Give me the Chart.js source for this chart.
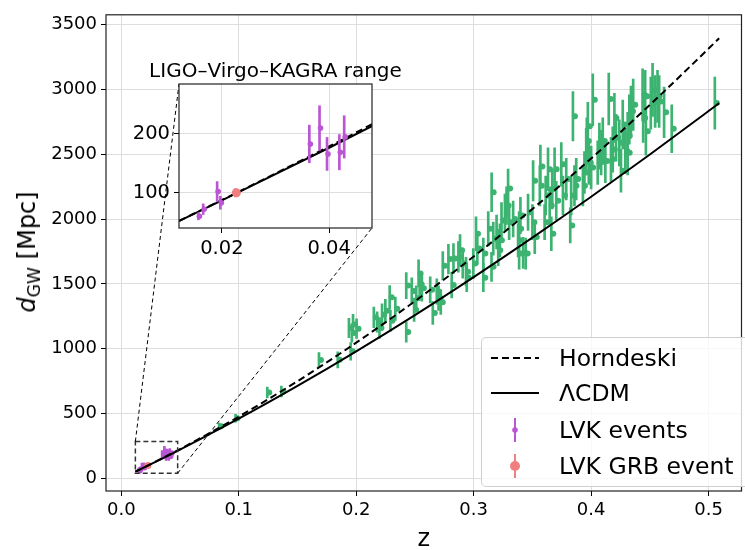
<!DOCTYPE html>
<html>
<head>
<meta charset="utf-8">
<script src="https://cdn.jsdelivr.net/npm/chart.js@4.4.1/dist/chart.umd.min.js"></script>
<style>
  body { margin: 0; background: #fff; font-family: 'DejaVu Sans', sans-serif; }
  #wrap { position: relative; width: 745px; height: 550px; overflow: hidden; }
  #main { position: absolute; left: 0; top: 0; }
  #insetBox { position: absolute; left: 110px; top: 56px; width: 270px; height: 200px; }
  #insetTitle { position: absolute; left: 275.5px; top: 70px; transform: translate(-50%, -50%);
                font-size: 20px; white-space: nowrap; color: #000; }
  #ylabel { position: absolute; left: 27px; top: 252px; transform: translate(-50%, -50%) rotate(-90deg);
            font-size: 24px; white-space: nowrap; color: #000; }
  #ylabel sub { font-size: 0.72em; vertical-align: baseline; position: relative; top: 0.28em; }
  #legend { position: absolute; left: 481px; top: 337px; width: 280px; height: 150px; box-sizing: border-box;
            border: 1px solid #cfcfcf; border-radius: 5px; background: rgba(255,255,255,0.8); }
  #legend svg { position: absolute; left: 0; top: 0; }
  #legend span { position: absolute; left: 77px; font-size: 23.5px; line-height: 28px; color: #000; white-space: nowrap; }
</style>
</head>
<body>
<div id="wrap">
  <canvas id="main" width="745" height="550"></canvas>
  <div id="insetBox"><canvas id="inset" width="270" height="200"></canvas></div>
  <div id="insetTitle">LIGO–Virgo–KAGRA range</div>
  <div id="ylabel"><i>d</i><sub>GW</sub> [Mpc]</div>
  <div id="legend">
    <svg width="80" height="150">
      <line x1="9" y1="20" x2="57" y2="20" stroke="#000" stroke-width="2" stroke-dasharray="7,4"/>
      <line x1="9" y1="55" x2="57" y2="55" stroke="#000" stroke-width="2"/>
      <line x1="33" y1="80" x2="33" y2="104" stroke="#ba55d3" stroke-width="2"/>
      <circle cx="33" cy="92" r="2.8" fill="#ba55d3"/>
      <line x1="33" y1="116" x2="33" y2="140" stroke="#f08080" stroke-width="2"/>
      <circle cx="33" cy="128" r="5" fill="#f08080"/>
    </svg>
    <span style="top:6px">Horndeski</span>
    <span style="top:41px">ΛCDM</span>
    <span style="top:78px">LVK events</span>
    <span style="top:114px">LVK GRB event</span>
  </div>
</div>
<script>
const FONT = "'DejaVu Sans', sans-serif";
const GREEN = '#3cb371';
const PURPLE = '#ba55d3';
const RED = '#f08080';

// axis ticks
const xTicks = [0, 0.1, 0.2, 0.3, 0.4, 0.5];
const yTicks = [0, 500, 1000, 1500, 2000, 2500, 3000, 3500];
const insetXTicks = [0.02, 0.04];
const insetYTicks = [100, 200];
const insetRangeZ = [0.012, 0.048];
const insetRangeD = [40, 285];

// model curves (Mpc)
const curveZ = [0.012, 0.02, 0.03, 0.04, 0.05, 0.075, 0.1, 0.15, 0.2, 0.25, 0.3, 0.35, 0.4, 0.45, 0.5, 0.509];
const lcdmD = [51.9, 87.0, 131.5, 176.5, 222.3, 340.0, 460.3, 713.2, 980.0, 1259.7, 1552.7, 1856.9, 2172.0, 2497.6, 2832.9, 2894.0];
const horndeskiD = [52.1, 87.6, 132.8, 178.9, 226.1, 348.7, 476.0, 749.6, 1046.6, 1366.8, 1711.0, 2078.0, 2467.0, 2880.0, 3314.5, 3394.0];

// LVK events
const lvkZ = [0.0158, 0.0167, 0.0193, 0.0199, 0.0365, 0.0384, 0.0398, 0.0421, 0.0430];
const lvkD = [60, 72, 102, 83, 183, 210, 166, 169, 195];
const lvkErr = [6, 9, 17, 11, 32, 38, 28, 30, 36];

// LVK GRB event
const grbZ = [0.0227];
const grbD = [100];
const grbErr = [7];

// simulated GW events
const gwZ = [0.085, 0.099, 0.126, 0.138, 0.170, 0.186, 0.1955, 0.197, 0.198, 0.199,
  0.202, 0.2167, 0.2195, 0.2215, 0.2237, 0.2265, 0.2302, 0.2308, 0.235, 0.2443,
  0.2443, 0.249, 0.251, 0.2528, 0.2548, 0.2557, 0.2576, 0.2647, 0.2669, 0.2703,
  0.2718, 0.2737, 0.2754, 0.2802, 0.283, 0.2845, 0.2887, 0.2901, 0.2924, 0.2952,
  0.2958, 0.3014, 0.3037, 0.3048, 0.3099, 0.3099, 0.3141, 0.3169, 0.317, 0.3184,
  0.3212, 0.3226, 0.324, 0.3254, 0.3283, 0.3297, 0.331, 0.3319, 0.3353, 0.3395,
  0.3404, 0.3404, 0.3415, 0.3438, 0.346, 0.348, 0.3517, 0.3523, 0.3537, 0.358,
  0.3585, 0.3621, 0.363, 0.365, 0.3664, 0.3678, 0.3686, 0.3706, 0.372, 0.3763,
  0.3777, 0.3805, 0.3839, 0.3847, 0.3862, 0.3875, 0.389, 0.3947, 0.396, 0.3975,
  0.398, 0.3989, 0.3997, 0.4017, 0.4031, 0.4073, 0.4087, 0.4102, 0.4116, 0.4138,
  0.4167, 0.4186, 0.4201, 0.4215, 0.4229, 0.4257, 0.4271, 0.4286, 0.4308, 0.4328,
  0.4328, 0.4342, 0.4356, 0.4375, 0.4455, 0.446, 0.4477, 0.4483, 0.4525, 0.454,
  0.4562, 0.4582, 0.4596, 0.4638, 0.4703, 0.507];
const gwD = [402, 464, 663, 670, 913, 915, 1160, 980, 1122, 1186,
  1155, 1242, 1206, 1160, 1262, 1293, 1397, 1216, 1308, 1487,
  1129, 1446, 1300, 1390, 1581, 1497, 1466, 1454, 1275, 1441,
  1390, 1359, 1640, 1691, 1492, 1696, 1709, 1760, 1657, 1594,
  1548, 1657, 1887, 1772, 1734, 1548, 1925, 1632, 2206, 1849,
  1900, 1760, 1836, 1989, 2053, 2104, 2236, 1976, 2001, 1836,
  1925, 1734, 2027, 1740, 1734, 2053, 1976, 2295, 1861, 2257,
  2405, 1976, 2181, 2384, 2104, 1887, 2231, 2384, 2142, 2422,
  2181, 2308, 1951, 2181, 2793, 2257, 2308, 2257, 2359, 2525,
  2601, 2716, 2435, 2397, 2920, 2435, 2563, 2512, 2601, 2448,
  2925, 2461, 2537, 2780, 2627, 2588, 2372, 2729, 2525, 2640,
  2512, 2767, 2831, 2881, 2958, 2780, 2946, 2678, 2894, 2996,
  2907, 2946, 2907, 2823, 2696, 2894];
const gwErr = [25, 30, 42, 42, 57, 62, 75, 68, 72, 80,
  75, 80, 78, 80, 85, 88, 90, 82, 90, 100,
  78, 100, 90, 95, 105, 100, 100, 100, 88, 98,
  95, 95, 110, 115, 100, 115, 118, 120, 112, 110,
  108, 115, 130, 122, 120, 108, 132, 112, 150, 128,
  130, 120, 128, 138, 140, 145, 150, 135, 138, 128,
  132, 120, 140, 120, 120, 140, 135, 155, 128, 155,
  165, 135, 150, 165, 145, 130, 152, 165, 148, 168,
  150, 160, 135, 150, 190, 155, 160, 155, 162, 175,
  180, 185, 168, 165, 200, 168, 178, 172, 180, 168,
  200, 170, 175, 190, 180, 178, 165, 188, 175, 182,
  172, 190, 195, 198, 200, 190, 200, 185, 200, 205,
  200, 200, 200, 195, 185, 200];

const INSET_LEFT = 110, INSET_TOP = 56;

Chart.defaults.font.family = FONT;
Chart.defaults.color = '#000';

function pts(zs, ds) {
    return zs.map((z, i) => ({x: z, y: ds[i]}));
}
function errBars(zs, ds, es) {
    return zs.map((z, i) => ({x: z, y: [ds[i] - es[i], ds[i] + es[i]]}));
}

function lineSet(label, ys, dashed, order) {
    return {
        type: 'line', label: label, data: pts(curveZ, ys),
        borderColor: '#000', borderWidth: 2, borderDash: dashed ? [7, 4] : [],
        pointRadius: 0, cubicInterpolationMode: 'monotone', order: order
    };
}
function pointSet(label, zs, ds, color, r, order) {
    return {
        type: 'scatter', label: label, data: pts(zs, ds),
        backgroundColor: color, borderWidth: 0, pointRadius: r, pointHoverRadius: r, order: order
    };
}
function barSet(zs, ds, es, color, order) {
    return {
        type: 'bar', data: errBars(zs, ds, es), backgroundColor: color,
        borderWidth: 0, barThickness: 2, stack: 'err', order: order
    };
}

function scaleOpts(min, max, tickVals, fmt, fontSize, fitFn) {
    return {
        type: 'linear', min: min, max: max, offset: false, stacked: false, beginAtZero: false,
        afterBuildTicks: s => { s.ticks = tickVals.map(v => ({value: v})); },
        afterFit: fitFn,
        ticks: { callback: fmt, font: {size: fontSize}, color: '#000', padding: 4, maxRotation: 0, autoSkip: false },
        grid: { color: '#dddddd', lineWidth: 1, tickColor: '#000', tickLength: 5, offset: false },
        border: { display: false }
    };
}

const framePlugin = {
    id: 'frame',
    beforeDraw(chart) {
        const a = chart.chartArea;
        const ctx = chart.ctx;
        ctx.save();
        ctx.fillStyle = '#fff';
        ctx.fillRect(a.left, a.top, a.right - a.left, a.bottom - a.top);
        ctx.restore();
    },
    afterDraw(chart) {
        const a = chart.chartArea;
        const ctx = chart.ctx;
        ctx.save();
        ctx.strokeStyle = '#222';
        ctx.lineWidth = 1.2;
        ctx.strokeRect(a.left, a.top, a.right - a.left, a.bottom - a.top);
        ctx.restore();
    }
};

// inset first, the main chart needs its corners
const insetChart = new Chart(document.getElementById('inset'), {
    type: 'scatter',
    data: {
        datasets: [
            pointSet('LVK GRB event', grbZ, grbD, RED, 4.5, 0),
            barSet(grbZ, grbD, grbErr, RED, 1),
            pointSet('LVK events', lvkZ, lvkD, PURPLE, 2.8, 2),
            barSet(lvkZ, lvkD, lvkErr, PURPLE, 3),
            lineSet('Horndeski', horndeskiD, true, 4),
            lineSet('ΛCDM', lcdmD, false, 5)
        ]
    },
    options: {
        responsive: false,
        animation: false,
        events: [],
        layout: { padding: {left: 0, top: 28, right: 8, bottom: 0} },
        plugins: { legend: { display: false }, tooltip: { enabled: false } },
        scales: {
            x: scaleOpts(insetRangeZ[0], insetRangeZ[1], insetXTicks, v => v.toFixed(2), 19.5, s => { s.height = 28; }),
            y: scaleOpts(insetRangeD[0], insetRangeD[1], insetYTicks, v => String(v), 19.5, s => { s.width = 69; })
        }
    },
    plugins: [framePlugin]
});

const zoomBoxPlugin = {
    id: 'zoomBox',
    afterDatasetsDraw(chart) {
        const {ctx, scales: {x, y}} = chart;
        const x0 = x.getPixelForValue(insetRangeZ[0]);
        const x1 = x.getPixelForValue(insetRangeZ[1]);
        const y0 = y.getPixelForValue(insetRangeD[0]);
        const y1 = y.getPixelForValue(insetRangeD[1]);
        const ia = insetChart.chartArea;
        ctx.save();
        ctx.strokeStyle = '#333';
        ctx.lineWidth = 1.5;
        ctx.setLineDash([5, 3]);
        ctx.strokeRect(x0, y1, x1 - x0, y0 - y1);
        ctx.strokeStyle = '#000';
        ctx.lineWidth = 1;
        ctx.setLineDash([4, 3]);
        ctx.beginPath();
        ctx.moveTo(x0, y1);
        ctx.lineTo(INSET_LEFT + ia.left, INSET_TOP + ia.top);
        ctx.moveTo(x1, y0);
        ctx.lineTo(INSET_LEFT + ia.right, INSET_TOP + ia.bottom);
        ctx.stroke();
        ctx.restore();
    }
};

const xMain = scaleOpts(-0.013, 0.528, xTicks, v => v.toFixed(1), 18, s => { s.height = 59; });
xMain.title = { display: true, text: 'z', font: {size: 24}, color: '#000', padding: {top: 0, bottom: -4} };
const yMain = scaleOpts(-97, 3575, yTicks, v => String(v), 18, s => { s.width = 106; });

new Chart(document.getElementById('main'), {
    type: 'scatter',
    data: {
        datasets: [
            lineSet('Horndeski', horndeskiD, true, 0),
            lineSet('ΛCDM', lcdmD, false, 1),
            pointSet('LVK GRB event', grbZ, grbD, RED, 3.5, 2),
            barSet(grbZ, grbD, grbErr, RED, 3),
            pointSet('LVK events', lvkZ, lvkD, PURPLE, 2.8, 4),
            barSet(lvkZ, lvkD, lvkErr, PURPLE, 5),
            pointSet('GW events', gwZ, gwD, GREEN, 3, 6),
            barSet(gwZ, gwD, gwErr, GREEN, 7)
        ]
    },
    options: {
        responsive: false,
        animation: false,
        events: [],
        layout: { padding: {left: 0, top: 11, right: 1, bottom: 0} },
        plugins: { legend: { display: false }, tooltip: { enabled: false } },
        scales: { x: xMain, y: yMain }
    },
    plugins: [framePlugin, zoomBoxPlugin]
});
</script>
</body>
</html>
